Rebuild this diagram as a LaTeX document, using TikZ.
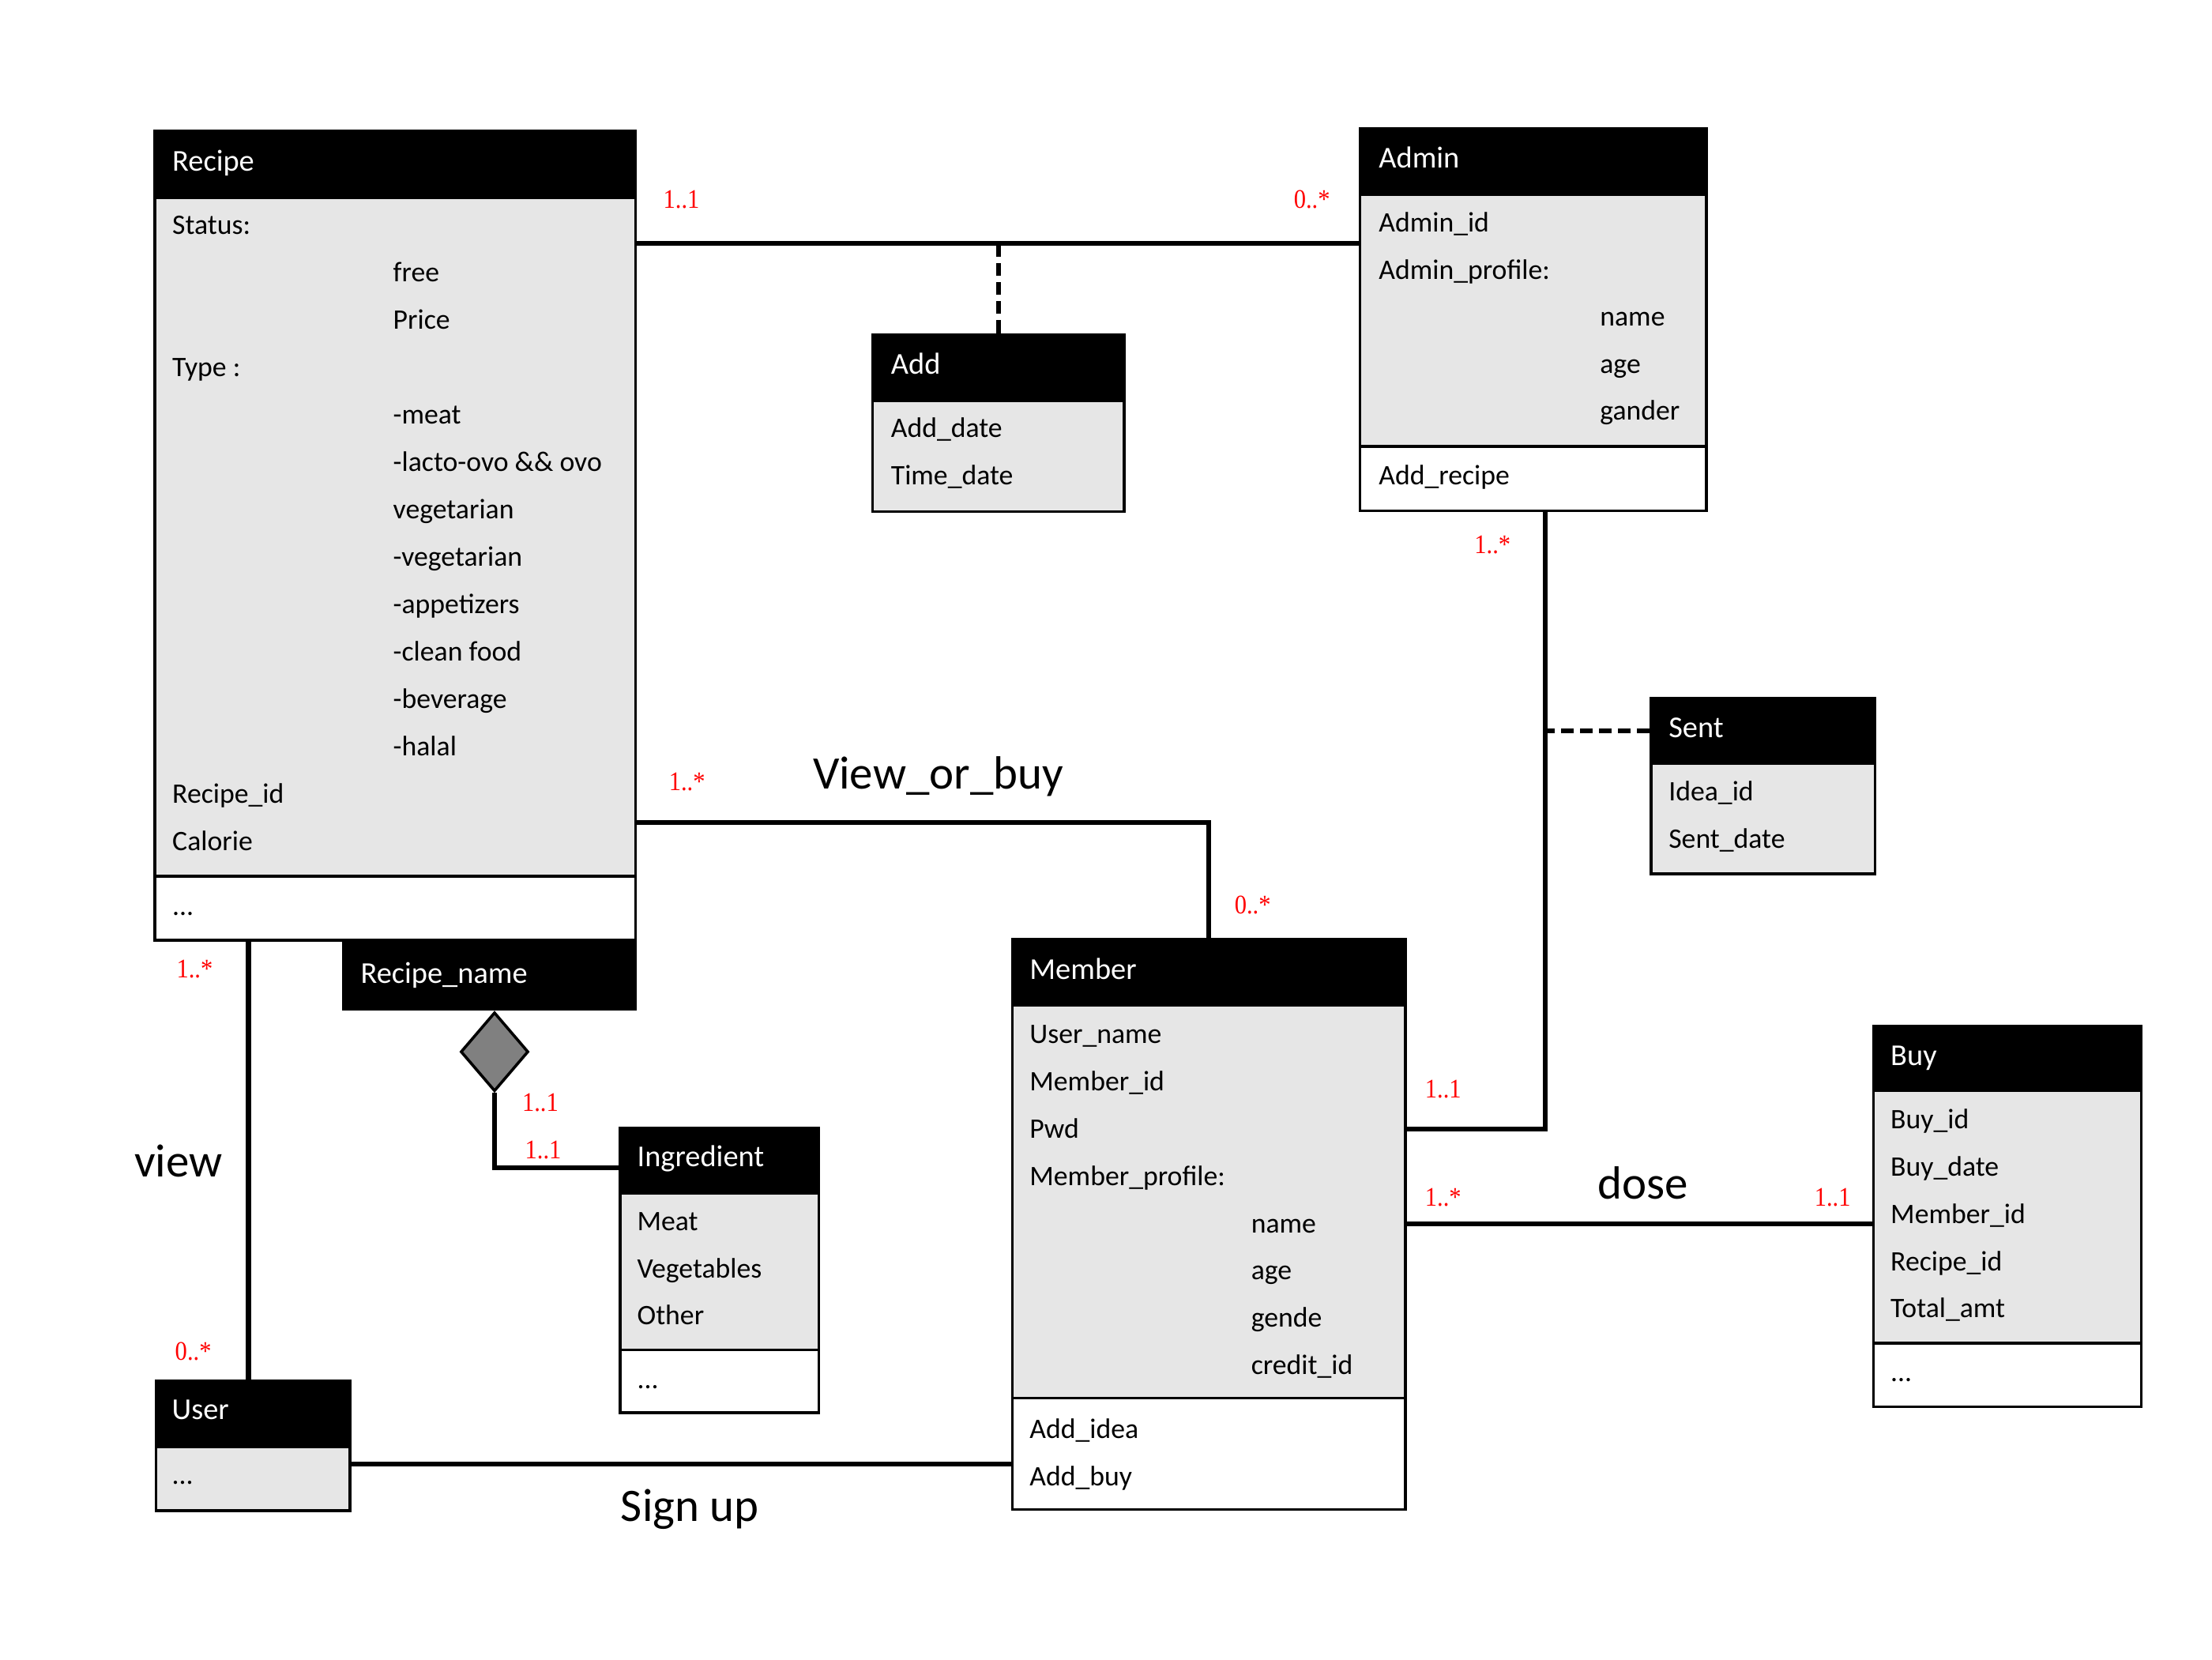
\documentclass[tikz,border=0pt]{standalone}
\usepackage{fontspec}
\setmainfont{Carlito}
\newfontfamily\multfamily[FakeStretch=0.9]{Liberation Serif}
\usepackage{tikz}
\usetikzlibrary{shapes.geometric,fit,calc}

\definecolor{attrgray}{RGB}{230,230,230}
\definecolor{aggray}{RGB}{128,128,128}
\newcommand{\attrfont}{\fontsize{20}{24}\selectfont}
\newcommand{\headfont}{\fontsize{21.5}{26}\selectfont}
\newcommand{\multfont}{\multfamily\fontsize{19}{22}\selectfont}
\newcommand{\assocfont}{\fontsize{33}{40}\selectfont}

\begin{document}
\begin{tikzpicture}[x=1pt, y=-1pt,
        box/.style    = {draw=black, line width=1.9pt, inner sep=0pt, rectangle},
        head/.style   = {box, fill=black},
        attrs/.style  = {box, fill=attrgray},
        ops/.style    = {box, fill=white},
        title/.style  = {anchor=base west, inner sep=0pt, text=white, font=\headfont},
        field/.style  = {anchor=base west, inner sep=0pt, font=\attrfont},
        link/.style   = {draw, line width=3.5pt},
        dep/.style    = {draw, line width=3.2pt, dash pattern=on 9pt off 4.5pt},
        mult/.style   = {anchor=base, inner sep=0pt, text=red, font=\multfont},
        assoc/.style  = {anchor=base, inner sep=0pt, font=\assocfont},
        agg/.style    = {diamond, draw=black, line width=2pt, fill=aggray, inner sep=0pt,
                         minimum width=48pt, minimum height=56pt, anchor=north}]

        \useasboundingbox (0,0) rectangle (1568,1176);

        % Recipe
        \node[attrs, fit={(109.8,140) (450.4,621)}] (recipe-attr) {};
        \node[ops, fit={(109.8,621) (450.4,666.4)}] (recipe-ops) {};
        \node[head, fit={(109.8,93) (450.4,140)}] (recipe-head) {};
        \node[title] (recipe-title) at (122,121.3) {Recipe};
        \foreach \k/\txt [count=\i from 0] in {0/Status:, 1/free, 1/Price, 0/Type :, 1/-meat,
                1/-lacto-ovo \&\& ovo, 1/vegetarian, 1/-vegetarian, 1/-appetizers,
                1/-clean food, 1/-beverage, 1/-halal, 0/Recipe\_id, 0/Calorie}
            \node[field] (recipe-\i) at (122+156.5*\k, 166.1+33.6*\i) {\txt};
        \node[field] (recipe-more) at (122,649) {...};

        % Admin
        \node[attrs, fit={(964.1,138.1) (1209.6,316.4)}] (admin-attr) {};
        \node[ops, fit={(964.1,316.4) (1209.6,362.1)}] (admin-ops) {};
        \node[head, fit={(964.1,91.1) (1209.6,138.1)}] (admin-head) {};
        \node[title] (admin-title) at (977.2,119.1) {Admin};
        \foreach \k/\txt [count=\i from 0] in {0/Admin\_id, 0/Admin\_profile:, 1/name, 1/age, 1/gander}
            \node[field] (admin-\i) at (977.2+156.8*\k, 164.6+33.3*\i) {\txt};
        \node[field] (admin-op) at (977.2,343.5) {Add\_recipe};

        % Add
        \node[attrs, fit={(618.6,284.3) (796.9,362.5)}] (add-attr) {};
        \node[head, fit={(618.6,237) (796.9,284.3)}] (add-head) {};
        \node[title] (add-title) at (631.4,265) {Add};
        \foreach \txt [count=\i from 0] in {Add\_date, Time\_date}
            \node[field] (add-\i) at (631.4, 310.2+33.6*\i) {\txt};

        % Sent
        \node[attrs, fit={(1170.3,541.3) (1329,619.3)}] (sent-attr) {};
        \node[head, fit={(1170.3,494.6) (1329,541.3)}] (sent-head) {};
        \node[title] (sent-title) at (1182.7,522.6) {Sent};
        \foreach \txt [count=\i from 0] in {Idea\_id, Sent\_date}
            \node[field] (sent-\i) at (1182.7, 567.8+33.6*\i) {\txt};

        % Member
        \node[attrs, fit={(717.6,712.3) (996.2,991)}] (member-attr) {};
        \node[ops, fit={(717.6,991) (996.2,1070)}] (member-ops) {};
        \node[head, fit={(717.6,665.9) (996.2,712.3)}] (member-head) {};
        \node[title] (member-title) at (729.7,694) {Member};
        \foreach \k/\txt [count=\i from 0] in {0/User\_name, 0/Member\_id, 0/Pwd, 0/Member\_profile:,
                1/name, 1/age, 1/gende, 1/credit\_id}
            \node[field] (member-\i) at (729.7+157*\k, 739.6+33.5*\i) {\txt};
        \foreach \txt [count=\i from 0] in {Add\_idea, Add\_buy}
            \node[field] (member-op\i) at (729.7, 1019.6+33.5*\i) {\txt};

        % Recipe_name with its aggregation diamond
        \node[head, fit={(243.2,668.3) (450.2,715.5)}] (rname-head) {};
        \node[title] (rname-title) at (255.5,697) {Recipe\_name};
        \node[agg] (rname-agg) at ($(rname-head.south west)+(108.3,0)$) {};

        % Ingredient
        \node[attrs, fit={(439.5,845.6) (580.5,956.6)}] (ingr-attr) {};
        \node[ops, fit={(439.5,956.6) (580.5,1001.3)}] (ingr-ops) {};
        \node[head, fit={(439.5,799.3) (580.5,845.6)}] (ingr-head) {};
        \node[title] (ingr-title) at (451.5,827) {Ingredient};
        \foreach \txt [count=\i from 0] in {Meat, Vegetables, Other}
            \node[field] (ingr-\i) at (451.5, 872.3+33.3*\i) {\txt};
        \node[field] (ingr-more) at (451.5,984) {...};

        % Buy
        \node[attrs, fit={(1328,773) (1518,952)}] (buy-attr) {};
        \node[ops, fit={(1328,952) (1518,997)}] (buy-ops) {};
        \node[head, fit={(1328,727) (1518,773)}] (buy-head) {};
        \node[title] (buy-title) at (1340,755) {Buy};
        \foreach \txt [count=\i from 0] in {Buy\_id, Buy\_date, Member\_id, Recipe\_id, Total\_amt}
            \node[field] (buy-\i) at (1340, 800+33.5*\i) {\txt};
        \node[field] (buy-more) at (1340,979) {...};

        % User
        \node[attrs, fit={(110.5,1025.7) (248,1070.6)}] (user-attr) {};
        \node[head, fit={(110.5,978.7) (248,1025.7)}] (user-head) {};
        \node[title] (user-title) at (121.7,1006) {User};
        \node[field] (user-more) at (121.7,1051.8) {...};

        % connectors
        \draw[link] ($(admin-attr.north west)+(0,35.5)$) coordinate (ra) -- (recipe-attr.east |- ra);
        \draw[dep] (add-head.north) -- (add-head.north |- ra);
        \draw[link] ($(admin-ops.south west)+(132,0)$) coordinate (am) |- ($(member-attr.north east)+(0,89)$);
        \draw[dep] (sent-head.west) -- (sent-head.west -| am);
        \draw[link] (member-head.north) |- ($(recipe-attr.south east)+(0,-39)$);
        \draw[link] ($(user-head.north west)+(66.5,0)$) coordinate (ru) -- (ru |- recipe-ops.south);
        \draw[link] (rname-agg.south) |- ($(ingr-head.south west)+(0,-19)$);
        \draw[link] ($(member-attr.north east)+(0,156)$) coordinate (mb) -- (buy-attr.west |- mb);
        \draw[link] ($(user-attr.north east)+(0,13)$) coordinate (um) -- (member-ops.west |- um);

        % multiplicities
        \node[mult] (m-ra1) at (483,147.5) {1..1};
        \node[mult] (m-ra2) at (930,147.5) {0..*};
        \node[mult] (m-am1) at (1058,392) {1..*};
        \node[mult] (m-am2) at (1023,778) {1..1};
        \node[mult] (m-mb1) at (1023,855) {1..*};
        \node[mult] (m-mb2) at (1299,855) {1..1};
        \node[mult] (m-rm1) at (487,560) {1..*};
        \node[mult] (m-rm2) at (888,647.7) {0..*};
        \node[mult] (m-ru1) at (138,693) {1..*};
        \node[mult] (m-ru2) at (137,964) {0..*};
        \node[mult] (m-ri1) at (383,787.7) {1..1};
        \node[mult] (m-ri2) at (385,821) {1..1};

        % association names
        \node[assoc] (a-view-buy) at (665,559) {View\_or\_buy};
        \node[assoc] (a-view) at (126.5,834) {view};
        \node[assoc] (a-dose) at (1164.5,850) {dose};
        \node[assoc] (a-signup) at (489,1078) {Sign up};

\end{tikzpicture}
\end{document}
